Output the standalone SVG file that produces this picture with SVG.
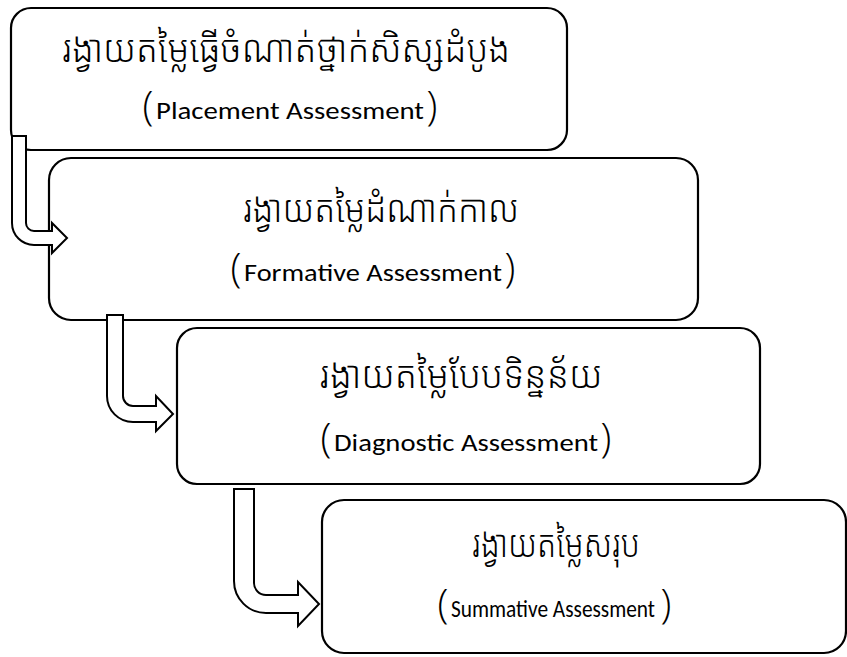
<svg xmlns="http://www.w3.org/2000/svg" width="847" height="657" viewBox="0 0 847 657">
<style>
.box{fill:#fff;stroke:#000;stroke-width:2.2}
.arr{fill:#fff;stroke:#000;stroke-width:2;stroke-linejoin:miter}
.km{font-family:"Noto Sans Khmer","Noto Serif Khmer","Khmer OS Siemreap","Khmer OS","Noto Sans",sans-serif;font-size:38px;font-weight:300;fill:#000;text-anchor:middle}
.en{font-family:Carlito,Lato,"Open Sans",sans-serif;font-size:25px;fill:#000;text-anchor:middle}
.pr{font-family:"Open Sans","Noto Sans",sans-serif;font-size:40px;font-weight:300;fill:#000;text-anchor:middle}
</style>
<rect width="847" height="657" fill="#fff"/>
<g id="node-placement">
<rect class="box" x="11" y="8" width="556" height="142" rx="20"/>
<text class="km" x="286" y="62" textLength="448" lengthAdjust="spacingAndGlyphs">រង្វាយតម្លៃធ្វើចំណាត់ថ្នាក់សិស្សដំបូង</text>
<text class="pr" x="148" y="120">(</text>
<text class="en" x="290" y="119" font-size="26" textLength="268" lengthAdjust="spacingAndGlyphs">Placement Assessment</text>
<text class="pr" x="432" y="120">)</text>
</g>
<g id="node-formative">
<rect class="box" x="49" y="158" width="649" height="162" rx="22"/>
<text class="km" x="381" y="222" textLength="276" lengthAdjust="spacingAndGlyphs">រង្វាយតម្លៃដំណាក់កាល</text>
<text class="pr" x="236" y="282">(</text>
<text class="en" x="373" y="281" textLength="258" lengthAdjust="spacingAndGlyphs">Formative Assessment</text>
<text class="pr" x="510" y="282">)</text>
</g>
<g id="node-diagnostic">
<rect class="box" x="177" y="328" width="583" height="156" rx="20"/>
<text class="km" x="461" y="388" textLength="283" lengthAdjust="spacingAndGlyphs">រង្វាយតម្លៃបែបទិន្នន័យ</text>
<text class="pr" x="326" y="452">(</text>
<text class="en" x="466" y="451" font-size="26" textLength="264" lengthAdjust="spacingAndGlyphs">Diagnostic Assessment</text>
<text class="pr" x="606" y="452">)</text>
</g>
<g id="node-summative">
<rect class="box" x="322" y="500" width="524" height="153" rx="22"/>
<text class="km" x="556" y="557" font-size="35" textLength="168" lengthAdjust="spacingAndGlyphs">រង្វាយតម្លៃសរុប</text>
<text class="pr" x="443" y="618">(</text>
<text class="en" x="553" y="617" font-size="21" textLength="204" lengthAdjust="spacingAndGlyphs">Summative Assessment</text>
<text class="pr" x="666" y="618">)</text>
</g>
<g id="connectors">
<path class="arr" d="M12,136 H26 V223 A8,8 0 0 0 34,231 H52 V223 L67,238 L52,253 V245 H34 A22,22 0 0 1 12,223 Z"/>
<path class="arr" d="M107,315 H123 V396 A10,10 0 0 0 133,406 H156 V396 L173,414 L156,431 V422 H133 A26,26 0 0 1 107,396 Z"/>
<path class="arr" d="M234,489 H254 V583 A12,12 0 0 0 266,595 H298 V582 L319,604 L298,626 V613 H266 A32,32 0 0 1 234,581 Z"/>
</g>
</svg>
